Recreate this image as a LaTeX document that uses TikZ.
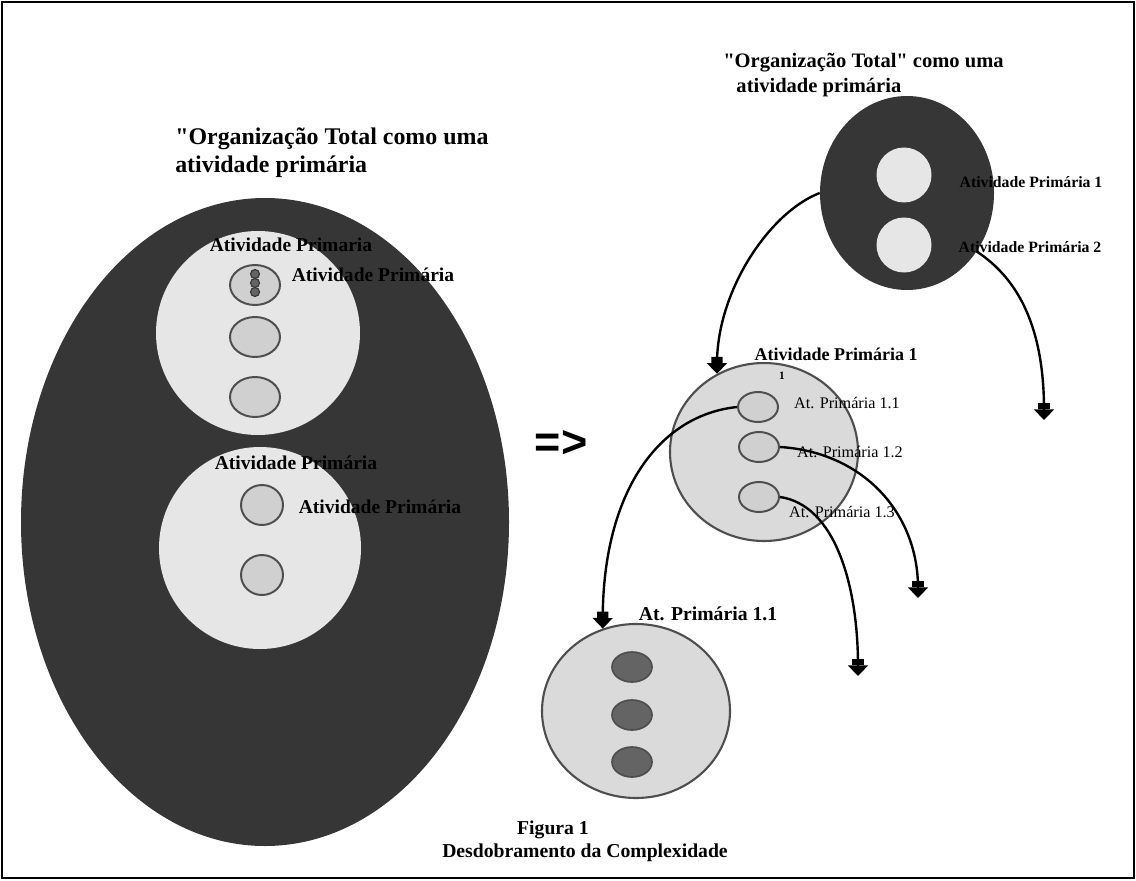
\documentclass[tikz,border=0pt]{standalone}
\usepackage{fontspec}
\setmainfont{Liberation Serif}[Ligatures=TeXOff]
\newfontfamily\symfont{Liberation Sans}
\usetikzlibrary{arrows.meta,shapes.geometric}
\definecolor{inkdark}{HTML}{363636}
\definecolor{paleA}{HTML}{E6E6E6}
\definecolor{paleB}{HTML}{DADADA}
\definecolor{cellfill}{HTML}{D0D0D0}
\definecolor{rimgray}{HTML}{4E4E4E}
\definecolor{celldark}{HTML}{646464}
% lengths given in drawing units (1 unit = 0.025cm)
\newcommand\pp[1]{#1*0.025cm}
\begin{document}
\begin{tikzpicture}[x=0.025cm, y=-0.025cm,
  every node/.style={inner sep=0pt},
  darkdisc/.style={ellipse, fill=inkdark, draw=none},
  palecirc/.style={circle, fill=paleA, draw=none, minimum size=\pp{#1}},
  cell/.style={ellipse, fill=cellfill, draw=rimgray, line width=1.4pt,
               minimum width=\pp{40}, minimum height=\pp{30}},
  darkcell/.style={ellipse, fill=celldark, draw=rimgray, line width=1.2pt,
               minimum width=\pp{40}, minimum height=\pp{30}},
  subdisc/.style={ellipse, fill=paleB, draw=rimgray, line width=1.5pt},
  conn/.style={line width=1.7pt, black,
    -{Rectangle[width=8pt,length=4.5pt] Triangle[width=14pt,length=7.5pt]}},
  titlefont/.style={font=\bfseries\fontsize{17pt}{20pt}\selectfont},
  labelbig/.style={font=\bfseries\fontsize{13.9pt}{16pt}\selectfont},
  labelsmall/.style={font=\bfseries\fontsize{11.2pt}{13pt}\selectfont},
  labelreg/.style={font=\fontsize{11.5pt}{13pt}\selectfont},
  captionfont/.style={font=\bfseries\fontsize{14pt}{16pt}\selectfont}]
\useasboundingbox (0,0) rectangle (1136,880);
\draw[line width=1.2pt] (2,2) rectangle (1134,878);

% ---- left: the whole organisation ----
\node[darkdisc, minimum width=\pp{488}, minimum height=\pp{648}] (bigL) at (265,522) {};
\node[palecirc=204] (upL) at (258,333) {};
\node[palecirc=202] (lowL) at (260,548) {};
\node[cell, minimum width=\pp{50}, minimum height=\pp{40}] (eA1) at (255,285) {};
\node[cell, minimum width=\pp{50}, minimum height=\pp{40}] (eA2) at (255,337) {};
\node[cell, minimum width=\pp{50}, minimum height=\pp{40}] (eA3) at (255,397) {};
\foreach \yy/\nm in {274/dotA,283/dotB,292/dotC}
  \node[circle, fill=celldark, draw=inkdark, line width=0.8pt, minimum size=\pp{9}] (\nm) at (255,\yy) {};
\node[cell, minimum width=\pp{42}, minimum height=\pp{40}] (cB1) at (262,505) {};
\node[cell, minimum width=\pp{42}, minimum height=\pp{40}] (cB2) at (262,575) {};

\node[titlefont, anchor=west, align=left] (titleL) at (175,153)
  {"Organização Total como uma\\atividade primária};
\node[labelbig] (lA1) at (291,245) {Atividade Primaria};
\node[labelbig] (lA2) at (373,275) {Atividade Primária};
\node[labelbig] (lB1) at (296,463) {Atividade Primária};
\node[labelbig] (lB2) at (380,507) {Atividade Primária};

\node[font=\symfont\bfseries\fontsize{32pt}{34pt}\selectfont] (implies) at (561,444) {=>};

% ---- right: unfolding ----
\node[font=\bfseries\fontsize{14.6pt}{17.8pt}\selectfont, anchor=west, align=left] (titleR) at (723,75)
  {"Organização Total" como uma\\\hspace*{0.33cm}atividade primária};

\node[darkdisc, minimum width=\pp{174}, minimum height=\pp{194}] (top) at (907,193) {};
\node[palecirc=55] (t1) at (904,175) {};
\node[palecirc=55] (t2) at (904,245) {};
\node[labelsmall] (lt1) at (1031,182) {Atividade Primária 1};
\node[labelsmall] (lt2) at (1030,247) {Atividade Primária 2};

\node[subdisc, minimum width=\pp{188}, minimum height=\pp{178}] (mid) at (764,452) {};
\node[cell] (m1) at (758,407) {};
\node[cell] (m2) at (759,447) {};
\node[cell] (m3) at (759,497) {};

\node[subdisc, minimum width=\pp{188}, minimum height=\pp{174}] (bot) at (636,711) {};
\node[darkcell] (b1) at (632,667) {};
\node[darkcell] (b2) at (632,715) {};
\node[darkcell] (b3) at (632,762) {};

\coordinate (a2end) at (1044,420);
\coordinate (a4end) at (918,598);
\coordinate (a5end) at (858,676);

\draw[conn] (top.west) .. controls (770,212) and (717,290) .. (mid.121);
\draw[conn] (top.-40) .. controls (1020,280) and (1044,330) .. (a2end);
\draw[conn] (m1.west) .. controls (660,415) and (603,490) .. (bot.112);
\draw[conn] (m2.east) .. controls (862,452) and (918,512) .. (a4end);
\draw[conn] (m3.east) .. controls (835,505) and (858,585) .. (a5end);

\node[font=\bfseries\fontsize{12.8pt}{14pt}\selectfont, fill=white, inner sep=1pt] (lmid) at (836,354) {Atividade Primária 1};
\node[font=\bfseries\fontsize{8pt}{9pt}\selectfont] (lmidone) at (782,376) {1};
\node[labelreg] (lm1) at (847,403) {At. Primária 1.1};
\node[labelreg] (lm2) at (850,452) {At. Primária 1.2};
\node[labelreg] (lm3) at (842,512) {At. Primária 1.3};
\node[font=\bfseries\fontsize{14pt}{16pt}\selectfont, fill=white, inner sep=1pt] (lbot) at (708,614) {At. Primária 1.1};

% ---- caption ----
\node[captionfont] (cap1) at (553,830) {Figura 1};
\node[captionfont] (cap2) at (585,853) {Desdobramento da Complexidade};
\end{tikzpicture}
\end{document}
